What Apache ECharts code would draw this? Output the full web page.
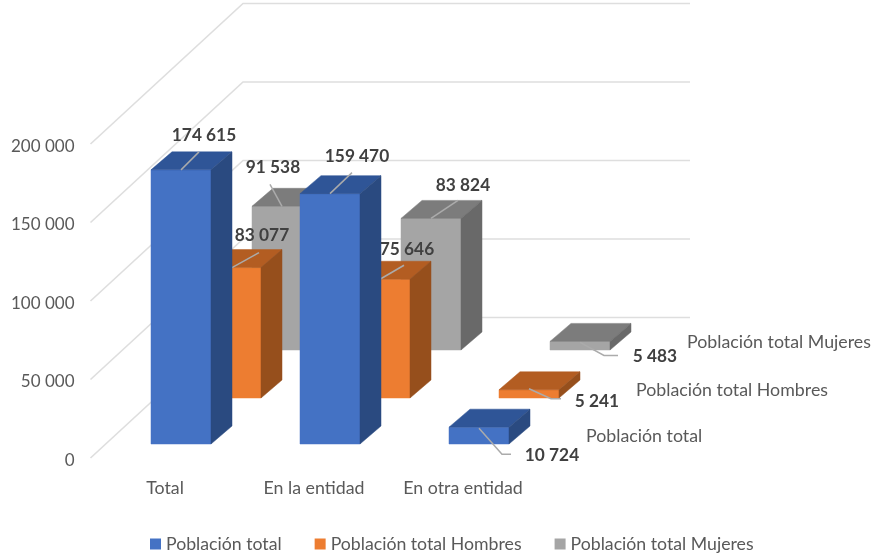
<!DOCTYPE html>
<html><head><meta charset="utf-8">
<style>html,body{margin:0;padding:0;background:#fff}#c{width:875px;height:553px}</style>
<script src="https://cdn.jsdelivr.net/npm/echarts@6/dist/echarts.min.js"></script>
</head><body><div id="c"></div>
<script>
const categories = ['Total', 'En la entidad', 'En otra entidad'];
const seriesNames = ['Población total', 'Población total Hombres', 'Población total Mujeres'];
const poblacionTotal = [174615, 159470, 10724];
const poblacionHombres = [83077, 75646, 5241];
const poblacionMujeres = [91538, 83824, 5483];
const axisTicks = [0, 50000, 100000, 150000, 200000];

const FONT = 'Lato, "Open Sans", sans-serif';
const TEXT = '#595959', BOLD = '#404040', GRID = '#DEDEDE', LEAD = '#ABABAB';
const WALL = {dx: 152.5, dy: -140.5};
const BAR = {half: 30, dx: 21, dy: -18};
const styles = [
  {front: '#4472C4', top: '#2F5597', side: '#2A4A80', off: [16, -14], z: 5},
  {front: '#ED7D31', top: '#B35D22', side: '#964F1C', off: [66, -60], z: 4},
  {front: '#A5A5A5', top: '#7C7C7C', side: '#696969', off: [117, -108], z: 3}
];
// label centre and leader polyline relative to the top-centre of each bar's front face
const labelLayout = [
  [{t: [23, -34], l: [[0, 0], [18, -18]]}, {t: [27, -37], l: [[0, 0], [22, -21]]}, {t: [73, 28], l: [[0, 1], [23, 27], [32, 27]]}],
  [{t: [31, -32], l: [[1, 0], [28, -15]]}, {t: [27, -30], l: [[0, 0], [24, -14]]}, {t: [68, 12], l: [[0, -1], [22, 9], [32, 9]]}],
  [{t: [-9, -39], l: [[0, 0], [-12, -22]]}, {t: [32, -33], l: [[0, 0], [27, -18]]}, {t: [75, 15], l: [[0, 1], [24, 14], [38, 14]]}]
];
const fmt = v => String(v).replace(/\B(?=(\d{3})+$)/g, ' ');

function wallItem(params, api) {
  const v = api.value(0);
  const y = api.coord([0, v])[1];
  const cs = params.coordSys;
  const x0 = cs.x, x1 = cs.x + WALL.dx, x2 = cs.x + cs.width + WALL.dx, y1 = y + WALL.dy;
  return {type: 'polyline', silent: true,
    shape: {points: [[x0, y], [x1, y1], [x2, y1]]},
    style: {stroke: GRID, lineWidth: 1.6, fill: 'none'}};
}

function barItem(si) {
  return function (params, api) {
    const s = styles[si];
    const top = api.coord([api.value(0), api.value(1)]);
    const base = api.coord([api.value(0), 0]);
    const cx = top[0] + s.off[0];
    const yt = top[1] + s.off[1], yb = base[1] + s.off[1];
    const xl = cx - BAR.half, xr = cx + BAR.half;
    const d = BAR;
    const poly = (pts, c) => ({type: 'polygon', shape: {points: pts}, style: {fill: c, stroke: c, lineWidth: 0.5}});
    const lay = labelLayout[si][params.dataIndex];
    const children = [
      poly([[xl, yt], [xr, yt], [xr, yb], [xl, yb]], s.front),
      poly([[xl, yt], [xl + d.dx, yt + d.dy], [xr + d.dx, yt + d.dy], [xr, yt]], s.top),
      poly([[xr, yt], [xr + d.dx, yt + d.dy], [xr + d.dx, yb + d.dy], [xr, yb]], s.side),
      {type: 'polyline', shape: {points: lay.l.map(p => [cx + p[0], yt + p[1]])},
        style: {stroke: LEAD, lineWidth: 1.5, fill: 'none'}},
      {type: 'text', style: {text: fmt(api.value(1)), x: cx + lay.t[0], y: yt + lay.t[1],
        align: 'center', verticalAlign: 'middle', fill: BOLD,
        fontFamily: FONT, fontSize: 17.3, fontWeight: 'bold'}}
    ];
    if (params.dataIndex === categories.length - 1) {
      children.push({type: 'text', style: {text: seriesNames[si], x: xr + 77, y: yb - 7.5,
        align: 'left', verticalAlign: 'middle', fill: TEXT,
        fontFamily: FONT, fontSize: 17.8}});
    }
    return {type: 'group', children};
  };
}

const values = [poblacionTotal, poblacionHombres, poblacionMujeres];
const chart = echarts.init(document.getElementById('c'), null, {renderer: 'canvas'});
chart.setOption({
  animation: false,
  backgroundColor: '#fff',
  textStyle: {fontFamily: FONT},
  grid: {left: 90.5, top: 144, width: 447, height: 314, containLabel: false},
  legend: {
    data: seriesNames.map(n => ({name: n, icon: 'rect'})),
    left: 150, top: 535, itemWidth: 11, itemHeight: 11, itemGap: 33,
    textStyle: {color: TEXT, fontSize: 17.7, fontFamily: FONT}, padding: 0,
    selectedMode: false
  },
  xAxis: {type: 'category', data: categories,
    axisLine: {show: false}, axisTick: {show: false}, splitLine: {show: false},
    axisLabel: {color: TEXT, fontSize: 17.8, fontFamily: FONT, margin: 21, interval: 0}},
  yAxis: {type: 'value', min: 0, max: 200000, interval: 50000,
    axisLine: {show: false}, axisTick: {show: false}, splitLine: {show: false},
    axisLabel: {color: TEXT, fontSize: 17, fontFamily: FONT, margin: 16,
      formatter: v => '{n|' + fmt(v) + '}',
      rich: {n: {color: TEXT, fontSize: 17, fontFamily: FONT, padding: [5, 0, 0, 0]}}}},
  series: [
    {type: 'custom', name: '_walls', silent: true, z: 1, encode: {y: 0},
      data: axisTicks.map(v => [v]), renderItem: wallItem, tooltip: {show: false}},
    ...seriesNames.map((n, i) => ({
      type: 'custom', name: n, z: styles[i].z, clip: false,
      itemStyle: {color: styles[i].front},
      encode: {x: 0, y: 1},
      data: values[i].map((v, k) => [k, v]),
      renderItem: barItem(i)
    }))
  ]
});
</script></body></html>
